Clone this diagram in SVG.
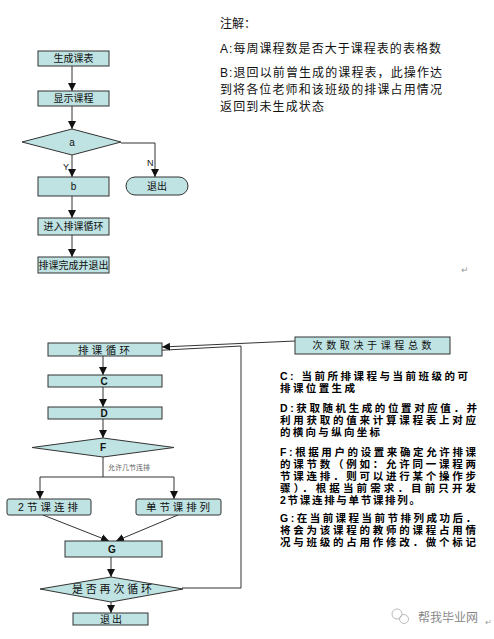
<svg xmlns="http://www.w3.org/2000/svg" width="494" height="639" viewBox="0 0 494 639">
<defs>
<marker id="arr" markerUnits="userSpaceOnUse" markerWidth="8" markerHeight="9" viewBox="0 0 10 10" refX="10" refY="5" orient="auto">
<path d="M0,0 L10,5 L0,10 z" fill="#111"/>
</marker>
<style>
.box{fill:#bfe2e2;stroke:#333;stroke-width:1}
.ln{fill:none;stroke:#333;stroke-width:1}
.la{fill:none;stroke:#333;stroke-width:1;marker-end:url(#arr)}
.t{font-family:"Liberation Sans","Noto Sans CJK SC",sans-serif;fill:#111;text-anchor:middle}
.n{font-family:"Liberation Sans","Noto Sans CJK SC",sans-serif;fill:#111}
.b{font-family:"Liberation Sans","Noto Sans CJK SC",sans-serif;fill:#000;font-weight:bold;font-size:10.5px}
</style>
</defs>
<rect width="494" height="639" fill="#fff"/>

<g id="connectors">
<path class="la" d="M72,66 V91"/>
<path class="la" d="M72,106 V129"/>
<path class="la" d="M72,155 V177"/>
<path class="la" d="M72,196 V218"/>
<path class="la" d="M72,235 V257"/>
<path class="la" d="M121,143 H155 V177"/>
<path class="la" d="M103,356 V375"/>
<path class="la" d="M103,387 V407"/>
<path class="la" d="M103,419 V438"/>
<path class="ln" d="M103,457 V477 M40,477 H174"/>
<path class="la" d="M40,477 V499"/>
<path class="la" d="M174,477 V499"/>
<path class="la" d="M43,515 L109,541"/>
<path class="la" d="M178,515 L116,541"/>
<path class="la" d="M111,557 V577"/>
<path class="la" d="M111,602 V613"/>
<path class="ln" d="M182,588 H241 V346 L147,351"/>
<path class="la" d="M295,341 L162,347"/>
<text class="n" x="63" y="170" font-size="9">Y</text>
<text class="n" x="147" y="166" font-size="9">N</text>
<text class="n" x="108" y="470" font-size="7" fill="#666" style="fill:#666">允许几节连排</text>
</g>

<g id="n_shengcheng"><rect class="box" x="38" y="51" width="71" height="15"/><text class="t" x="73.5" y="62" font-size="10">生成课表</text></g>
<g id="n_xianshi"><rect class="box" x="38" y="91" width="71" height="15"/><text class="t" x="73.5" y="102" font-size="10">显示课程</text></g>
<g id="n_a"><polygon class="box" points="22,142 72,129 121,142 72,155"/><text class="t" x="72" y="146" font-size="10">a</text></g>
<g id="n_b"><rect class="box" x="38" y="177" width="71" height="19"/><text class="t" x="73.5" y="190" font-size="10">b</text></g>
<g id="n_tuichu1"><rect class="box" x="126" y="177" width="62" height="18" rx="9" ry="9"/><text class="t" x="157" y="190" font-size="10">退出</text></g>
<g id="n_jinru"><rect class="box" x="38" y="218" width="71" height="17"/><text class="t" x="73.5" y="230" font-size="10">进入排课循环</text></g>
<g id="n_wancheng"><rect class="box" x="38" y="257" width="71" height="16"/><text class="t" x="73.5" y="269" font-size="10" textLength="70">排课完成并退出</text></g>

<g id="note_top">
<text class="n" x="220" y="28" font-size="12">注解：</text>
<text class="n" x="220" y="53" font-size="12" textLength="221">A:每周课程数是否大于课程表的表格数</text>
<text class="n" x="220" y="77" font-size="12" textLength="222">B:退回以前曾生成的课程表，此操作达</text>
<text class="n" x="220" y="94" font-size="12" textLength="222">到将各位老师和该班级的排课占用情况</text>
<text class="n" x="220" y="111" font-size="12" textLength="104">返回到未生成状态</text>
<text class="n" x="461" y="273" font-size="9" style="fill:#999">↵</text>
</g>

<g id="n_loop"><rect class="box" x="48" y="343" width="114" height="13"/><text class="t" x="104" y="354" font-size="10.5" textLength="52">排课循环</text></g>
<g id="n_C"><rect class="box" x="48" y="375" width="114" height="12"/><text class="t" x="104" y="385" font-size="10" font-weight="bold">C</text></g>
<g id="n_D"><rect class="box" x="48" y="407" width="114" height="12"/><text class="t" x="104" y="417" font-size="10" font-weight="bold">D</text></g>
<g id="n_F"><polygon class="box" points="32,447.5 103,438 174,447.5 103,457"/><text class="t" x="103" y="451" font-size="10" font-weight="bold">F</text></g>
<g id="n_2jie"><rect class="box" x="7" y="499" width="84" height="16" rx="2" ry="2"/><text class="t" x="48" y="511" font-size="10.5" textLength="60">2节课连排</text></g>
<g id="n_danjie"><rect class="box" x="136" y="499" width="85" height="16" rx="2" ry="2"/><text class="t" x="178" y="511" font-size="10.5" textLength="64">单节课排列</text></g>
<g id="n_G"><rect class="box" x="65" y="541" width="97" height="16"/><text class="t" x="112" y="553" font-size="10" font-weight="bold">G</text></g>
<g id="n_again"><polygon class="box" points="40,589 111,577 183,589 111,602"/><text class="t" x="112" y="593" font-size="11" textLength="80">是否再次循环</text></g>
<g id="n_tuichu2"><rect class="box" x="73" y="613" width="75" height="12"/><text class="t" x="111" y="623" font-size="10" textLength="22">退出</text></g>
<g id="n_cishu"><rect class="box" x="295" y="337" width="155" height="17"/><text class="t" x="372" y="349" font-size="10" textLength="119">次数取决于课程总数</text></g>

<g id="note_bottom">
<text class="b" x="280" y="380" textLength="188">C: 当前所排课程与当前班级的可</text>
<text class="b" x="280" y="392" textLength="75">排课位置生成</text>
<text class="b" x="280" y="412" textLength="197">D:获取随机生成的位置对应值．并</text>
<text class="b" x="280" y="424" textLength="196">利用获取的值来计算课程表上对应</text>
<text class="b" x="280" y="436" textLength="100">的横向与纵向坐标</text>
<text class="b" x="280" y="456" textLength="196">F:根据用户的设置来确定允许排课</text>
<text class="b" x="280" y="468" textLength="196">的课节数（例如：允许同一课程两</text>
<text class="b" x="280" y="480" textLength="196">节课连排．则可以进行某个操作步</text>
<text class="b" x="280" y="492" textLength="196">骤）．根据当前需求．目前只开发</text>
<text class="b" x="280" y="504" textLength="140">2节课连排与单节课排列。</text>
<text class="b" x="280" y="522" textLength="196">G:在当前课程当前节排列成功后．</text>
<text class="b" x="280" y="534" textLength="196">将会为该课程的教师的课程占用情</text>
<text class="b" x="280" y="546" textLength="196">况与班级的占用作修改．做个标记</text>
</g>

<g id="watermark">
<circle cx="397" cy="614" r="5" fill="none" stroke="#bbb" stroke-width="1"/>
<circle cx="404" cy="619" r="4.5" fill="none" stroke="#bbb" stroke-width="1"/>
<text class="n" x="418" y="622" font-size="12" style="fill:#888" textLength="60">帮我毕业网</text>
<text class="n" x="485" y="625" font-size="8" style="fill:#999">↵</text>
</g>
</svg>
